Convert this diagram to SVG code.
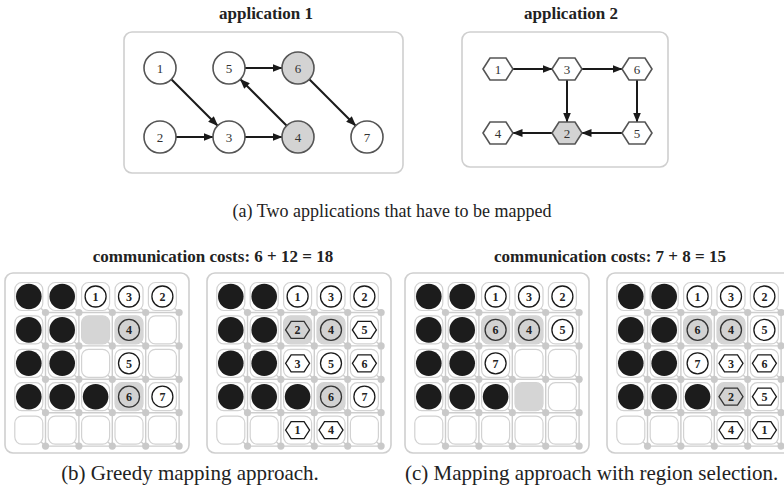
<svg xmlns="http://www.w3.org/2000/svg" xmlns:xlink="http://www.w3.org/1999/xlink" width="784" height="491" viewBox="0 0 784 491">
<style>
.box{fill:#fff;stroke:#cfcfcf;stroke-width:1.6}
.title{font-family:"Liberation Serif",serif;font-size:17px;font-weight:bold;text-anchor:middle;fill:#222}
.cap{font-family:"Liberation Serif",serif;font-size:18px;fill:#222}
.cap2{font-family:"Liberation Serif",serif;font-size:21px;fill:#222}
.an{fill:#fff;stroke:#555;stroke-width:1.6}
.an.g{fill:#d3d3d3}
.al{font-family:"Liberation Serif",serif;font-size:13px;text-anchor:middle;fill:#333}
.edge{stroke:#1a1a1a;stroke-width:2;fill:none;marker-end:url(#ah)}
.mesh{stroke:#cdcdcd;stroke-width:1.4;fill:none}
.tile{fill:#fff;stroke:#d2d2d2;stroke-width:1.2}
.rt{fill:#c9c9c9}
.bk{fill:#1c1c1c}
.wc{fill:#fff;stroke:#1a1a1a;stroke-width:1.3}
.gc{fill:#d2d2d2;stroke:#333;stroke-width:1.3}
.gt{fill:#d5d5d5}
.gl{font-family:"Liberation Serif",serif;font-size:12px;font-weight:bold;text-anchor:middle;fill:#222}
</style>
<defs>
<marker id="ah" markerWidth="10" markerHeight="8" refX="9.5" refY="4" orient="auto" markerUnits="userSpaceOnUse"><path d="M0,0 L10,4 L0,8 z" fill="#1a1a1a"/></marker>
<polygon id="ahex" points="-15,0 -8,-11 8,-11 15,0 8,11 -8,11"/>
<polygon id="hx" points="-12,0 -6.5,-8.5 6.5,-8.5 12,0 6.5,8.5 -6.5,8.5"/>
<circle id="c" r="10.5"/>
<circle id="b" r="12.8"/>
<rect id="t" x="-14" y="-14" width="28" height="28" rx="7"/>
<g id="mesh">
<rect class="box" x="0" y="273" width="184" height="180" rx="8"/>
<path class="mesh" d="M40.5 312.5H174.1M40.5 345.9H174.1M40.5 379.3H174.1M40.5 412.7H174.1M40.5 446.1H174.1M40.5 312.5V446.1M73.9 312.5V446.1M107.3 312.5V446.1M140.7 312.5V446.1M174.1 312.5V446.1
M32.8 305.5l7.7 7M66.2 305.5l7.7 7M99.6 305.5l7.7 7M133 305.5l7.7 7M166.4 305.5l7.7 7
M32.8 338.9l7.7 7M66.2 338.9l7.7 7M99.6 338.9l7.7 7M133 338.9l7.7 7M166.4 338.9l7.7 7
M32.8 372.3l7.7 7M66.2 372.3l7.7 7M99.6 372.3l7.7 7M133 372.3l7.7 7M166.4 372.3l7.7 7
M32.8 405.7l7.7 7M66.2 405.7l7.7 7M99.6 405.7l7.7 7M133 405.7l7.7 7M166.4 405.7l7.7 7
M32.8 439.1l7.7 7M66.2 439.1l7.7 7M99.6 439.1l7.7 7M133 439.1l7.7 7M166.4 439.1l7.7 7"/>
<g class="tile">
<use href="#t" x="23.8" y="296.5"/><use href="#t" x="57.2" y="296.5"/><use href="#t" x="90.6" y="296.5"/><use href="#t" x="124" y="296.5"/><use href="#t" x="157.4" y="296.5"/>
<use href="#t" x="23.8" y="329.9"/><use href="#t" x="57.2" y="329.9"/><use href="#t" x="90.6" y="329.9"/><use href="#t" x="124" y="329.9"/><use href="#t" x="157.4" y="329.9"/>
<use href="#t" x="23.8" y="363.3"/><use href="#t" x="57.2" y="363.3"/><use href="#t" x="90.6" y="363.3"/><use href="#t" x="124" y="363.3"/><use href="#t" x="157.4" y="363.3"/>
<use href="#t" x="23.8" y="396.7"/><use href="#t" x="57.2" y="396.7"/><use href="#t" x="90.6" y="396.7"/><use href="#t" x="124" y="396.7"/><use href="#t" x="157.4" y="396.7"/>
<use href="#t" x="23.8" y="430.1"/><use href="#t" x="57.2" y="430.1"/><use href="#t" x="90.6" y="430.1"/><use href="#t" x="124" y="430.1"/><use href="#t" x="157.4" y="430.1"/>
</g>
<g class="rt">
<circle cx="40.5" cy="312.5" r="3.6"/><circle cx="73.9" cy="312.5" r="3.6"/><circle cx="107.3" cy="312.5" r="3.6"/><circle cx="140.7" cy="312.5" r="3.6"/><circle cx="174.1" cy="312.5" r="3.6"/>
<circle cx="40.5" cy="345.9" r="3.6"/><circle cx="73.9" cy="345.9" r="3.6"/><circle cx="107.3" cy="345.9" r="3.6"/><circle cx="140.7" cy="345.9" r="3.6"/><circle cx="174.1" cy="345.9" r="3.6"/>
<circle cx="40.5" cy="379.3" r="3.6"/><circle cx="73.9" cy="379.3" r="3.6"/><circle cx="107.3" cy="379.3" r="3.6"/><circle cx="140.7" cy="379.3" r="3.6"/><circle cx="174.1" cy="379.3" r="3.6"/>
<circle cx="40.5" cy="412.7" r="3.6"/><circle cx="73.9" cy="412.7" r="3.6"/><circle cx="107.3" cy="412.7" r="3.6"/><circle cx="140.7" cy="412.7" r="3.6"/><circle cx="174.1" cy="412.7" r="3.6"/>
<circle cx="40.5" cy="446.1" r="3.6"/><circle cx="73.9" cy="446.1" r="3.6"/><circle cx="107.3" cy="446.1" r="3.6"/><circle cx="140.7" cy="446.1" r="3.6"/><circle cx="174.1" cy="446.1" r="3.6"/>
</g>
<g class="bk">
<use href="#b" x="23.8" y="296.5"/><use href="#b" x="57.2" y="296.5"/>
<use href="#b" x="23.8" y="329.9"/><use href="#b" x="57.2" y="329.9"/>
<use href="#b" x="23.8" y="363.3"/><use href="#b" x="57.2" y="363.3"/>
<use href="#b" x="23.8" y="396.7"/><use href="#b" x="57.2" y="396.7"/><use href="#b" x="90.6" y="396.7"/>
</g>
<use href="#c" class="wc" x="90.6" y="296.5"/><use href="#c" class="wc" x="124" y="296.5"/><use href="#c" class="wc" x="157.4" y="296.5"/>
</g>
</defs>

<!-- top: applications -->
<text class="title" x="266" y="19">application 1</text>
<text class="title" x="571" y="19">application 2</text>
<rect class="box" x="124" y="32" width="279" height="141" rx="8"/>
<rect class="box" x="462" y="32" width="206" height="135" rx="8"/>

<g id="connectors">
<line class="edge" x1="171.3" y1="79.3" x2="217.7" y2="125.7"/>
<line class="edge" x1="176" y1="137" x2="213" y2="137"/>
<line class="edge" x1="245" y1="137" x2="282" y2="137"/>
<line class="edge" x1="286.7" y1="125.7" x2="240.3" y2="79.3"/>
<line class="edge" x1="245" y1="68" x2="282" y2="68"/>
<line class="edge" x1="309.3" y1="79.3" x2="355.7" y2="125.7"/>
<line class="edge" x1="513" y1="69" x2="552" y2="69"/>
<line class="edge" x1="582" y1="69" x2="622" y2="69"/>
<line class="edge" x1="567" y1="80" x2="567" y2="122"/>
<line class="edge" x1="637" y1="80" x2="637" y2="122"/>
<line class="edge" x1="622" y1="133" x2="582" y2="133"/>
<line class="edge" x1="552" y1="133" x2="513" y2="133"/>
</g>

<g id="a1-n1"><circle class="an" cx="160" cy="68" r="16"/><text class="al" x="160" y="72.5">1</text></g>
<g id="a1-n5"><circle class="an" cx="229" cy="68" r="16"/><text class="al" x="229" y="72.5">5</text></g>
<g id="a1-n6"><circle class="an g" cx="298" cy="68" r="16"/><text class="al" x="298" y="72.5">6</text></g>
<g id="a1-n2"><circle class="an" cx="160" cy="137" r="16"/><text class="al" x="160" y="141.5">2</text></g>
<g id="a1-n3"><circle class="an" cx="229" cy="137" r="16"/><text class="al" x="229" y="141.5">3</text></g>
<g id="a1-n4"><circle class="an g" cx="298" cy="137" r="16"/><text class="al" x="298" y="141.5">4</text></g>
<g id="a1-n7"><circle class="an" cx="367" cy="137" r="16"/><text class="al" x="367" y="141.5">7</text></g>

<g id="a2-n1"><use href="#ahex" class="an" x="498" y="69"/><text class="al" x="498" y="73.5">1</text></g>
<g id="a2-n3"><use href="#ahex" class="an" x="567" y="69"/><text class="al" x="567" y="73.5">3</text></g>
<g id="a2-n6"><use href="#ahex" class="an" x="637" y="69"/><text class="al" x="637" y="73.5">6</text></g>
<g id="a2-n4"><use href="#ahex" class="an" x="498" y="133"/><text class="al" x="498" y="137.5">4</text></g>
<g id="a2-n2"><use href="#ahex" class="an g" x="567" y="133"/><text class="al" x="567" y="137.5">2</text></g>
<g id="a2-n5"><use href="#ahex" class="an" x="637" y="133"/><text class="al" x="637" y="137.5">5</text></g>

<text class="cap" x="392" y="217" text-anchor="middle">(a) Two applications that have to be mapped</text>

<!-- bottom -->
<text class="title" x="213" y="262">communication costs: 6 + 12 = 18</text>
<text class="title" x="610" y="262">communication costs: 7 + 8 = 15</text>

<g id="grid-b1" transform="translate(5,0)">
<use href="#mesh"/>
<use href="#t" class="gt" x="90.6" y="329.9"/>
<use href="#t" class="gt" x="124" y="329.9"/><use href="#c" class="gc" x="124" y="329.9"/>
<use href="#c" class="wc" x="124" y="363.3"/>
<use href="#t" class="gt" x="124" y="396.7"/><use href="#c" class="gc" x="124" y="396.7"/>
<use href="#c" class="wc" x="157.4" y="396.7"/>
<g class="gl">
<text x="90.6" y="300.8">1</text><text x="124" y="300.8">3</text><text x="157.4" y="300.8">2</text>
<text x="124" y="334.2">4</text><text x="124" y="367.6">5</text><text x="124" y="401">6</text><text x="157.4" y="401">7</text>
</g>
</g>

<g id="grid-b2" transform="translate(207,0)">
<use href="#mesh"/>
<use href="#t" class="gt" x="90.6" y="329.9"/><use href="#hx" class="gc" x="90.6" y="329.9"/>
<use href="#t" class="gt" x="124" y="329.9"/><use href="#c" class="gc" x="124" y="329.9"/>
<use href="#hx" class="wc" x="157.4" y="329.9"/>
<use href="#hx" class="wc" x="90.6" y="363.3"/>
<use href="#c" class="wc" x="124" y="363.3"/>
<use href="#hx" class="wc" x="157.4" y="363.3"/>
<use href="#t" class="gt" x="124" y="396.7"/><use href="#c" class="gc" x="124" y="396.7"/>
<use href="#c" class="wc" x="157.4" y="396.7"/>
<use href="#hx" class="wc" x="90.6" y="430.1"/>
<use href="#hx" class="wc" x="124" y="430.1"/>
<g class="gl">
<text x="90.6" y="300.8">1</text><text x="124" y="300.8">3</text><text x="157.4" y="300.8">2</text>
<text x="90.6" y="334.2">2</text><text x="124" y="334.2">4</text><text x="157.4" y="334.2">5</text>
<text x="90.6" y="367.6">3</text><text x="124" y="367.6">5</text><text x="157.4" y="367.6">6</text>
<text x="124" y="401">6</text><text x="157.4" y="401">7</text>
<text x="90.6" y="434.4">1</text><text x="124" y="434.4">4</text>
</g>
</g>

<g id="grid-c1" transform="translate(405,0)">
<use href="#mesh"/>
<use href="#t" class="gt" x="90.6" y="329.9"/><use href="#c" class="gc" x="90.6" y="329.9"/>
<use href="#t" class="gt" x="124" y="329.9"/><use href="#c" class="gc" x="124" y="329.9"/>
<use href="#c" class="wc" x="157.4" y="329.9"/>
<use href="#c" class="wc" x="90.6" y="363.3"/>
<use href="#t" class="gt" x="124" y="396.7"/>
<g class="gl">
<text x="90.6" y="300.8">1</text><text x="124" y="300.8">3</text><text x="157.4" y="300.8">2</text>
<text x="90.6" y="334.2">6</text><text x="124" y="334.2">4</text><text x="157.4" y="334.2">5</text>
<text x="90.6" y="367.6">7</text>
</g>
</g>

<g id="grid-c2" transform="translate(607,0)">
<use href="#mesh"/>
<use href="#t" class="gt" x="90.6" y="329.9"/><use href="#c" class="gc" x="90.6" y="329.9"/>
<use href="#t" class="gt" x="124" y="329.9"/><use href="#c" class="gc" x="124" y="329.9"/>
<use href="#c" class="wc" x="157.4" y="329.9"/>
<use href="#c" class="wc" x="90.6" y="363.3"/>
<use href="#hx" class="wc" x="124" y="363.3"/>
<use href="#hx" class="wc" x="157.4" y="363.3"/>
<use href="#t" class="gt" x="124" y="396.7"/><use href="#hx" class="gc" x="124" y="396.7"/>
<use href="#hx" class="wc" x="157.4" y="396.7"/>
<use href="#hx" class="wc" x="124" y="430.1"/>
<use href="#hx" class="wc" x="157.4" y="430.1"/>
<g class="gl">
<text x="90.6" y="300.8">1</text><text x="124" y="300.8">3</text><text x="157.4" y="300.8">2</text>
<text x="90.6" y="334.2">6</text><text x="124" y="334.2">4</text><text x="157.4" y="334.2">5</text>
<text x="90.6" y="367.6">7</text><text x="124" y="367.6">3</text><text x="157.4" y="367.6">6</text>
<text x="124" y="401">2</text><text x="157.4" y="401">5</text>
<text x="124" y="434.4">4</text><text x="157.4" y="434.4">1</text>
</g>
</g>

<text class="cap2" x="190" y="480" text-anchor="middle">(b) Greedy mapping approach.</text>
<text class="cap2" x="405" y="480">(c) Mapping approach with region selection.</text>
</svg>
